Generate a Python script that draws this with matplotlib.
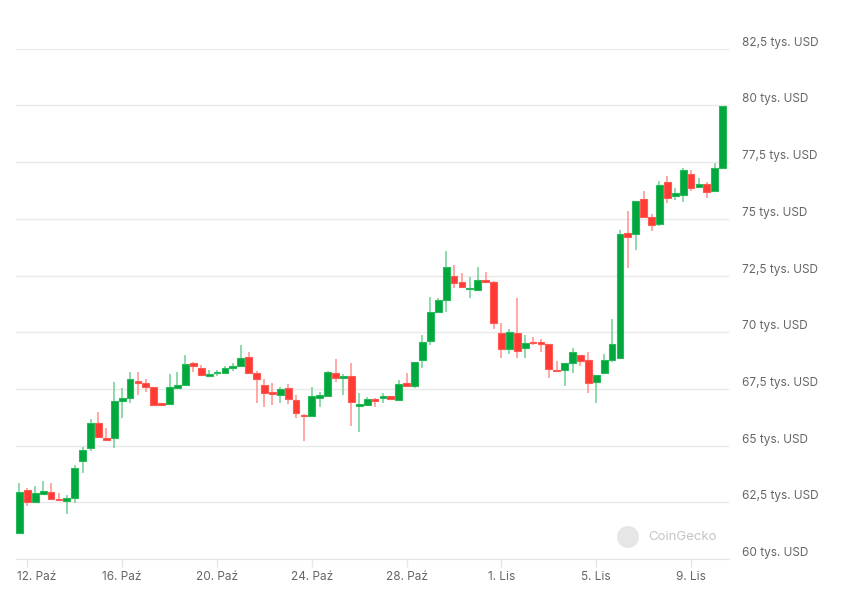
import matplotlib
matplotlib.use("Agg")
import matplotlib.pyplot as plt
from matplotlib.patches import Circle
from matplotlib.transforms import ScaledTranslation
import numpy as np

# BTC/USD, 8h candles, values in thousands of USD
opens = [61.13, 63.06, 62.52, 62.88, 62.95, 62.65, 62.55, 62.71, 64.30, 64.90,
         66.00, 65.34, 65.34, 66.98, 67.10, 67.83, 67.76, 67.59, 66.86, 66.84,
         67.54, 67.68, 68.66, 68.42, 68.08, 68.18, 68.20, 68.44, 68.52, 68.91,
         68.20, 67.67, 67.37, 67.23, 67.52, 67.01, 66.37, 66.32, 67.12, 67.20,
         68.20, 67.98, 68.08, 66.75, 66.80, 67.05, 67.10, 67.19, 67.01, 67.76,
         67.61, 68.77, 69.61, 70.89, 71.40, 72.50, 72.23, 71.91, 71.84, 72.32,
         72.20, 69.95, 69.25, 69.95, 69.29, 69.57, 69.57, 69.47, 68.34, 68.33,
         68.65, 68.99, 68.77, 67.81, 68.20, 68.77, 68.85, 74.37, 74.34, 75.88,
         75.10, 74.78, 76.64, 76.01, 76.05, 76.98, 76.39, 76.52, 76.24, 77.25]
highs = [63.37, 63.13, 63.20, 63.42, 63.33, 62.93, 62.81, 64.13, 64.95, 66.18,
         66.50, 65.76, 67.81, 67.54, 68.25, 68.25, 67.93, 67.60, 66.88, 68.17,
         68.25, 69.00, 68.70, 68.56, 68.34, 68.34, 68.50, 68.63, 69.44, 69.13,
         68.30, 67.93, 67.76, 67.59, 67.71, 67.24, 66.40, 67.57, 67.35, 68.30,
         68.84, 68.15, 68.66, 67.30, 67.15, 67.10, 67.30, 67.20, 67.90, 68.20,
         68.70, 69.88, 71.55, 71.49, 73.56, 72.95, 72.60, 72.42, 72.86, 72.64,
         72.25, 70.39, 70.13, 71.51, 69.88, 69.79, 69.69, 69.50, 68.74, 68.65,
         69.29, 69.00, 69.14, 68.12, 69.06, 70.59, 74.52, 75.36, 75.80, 76.24,
         75.20, 76.68, 76.90, 76.37, 77.25, 77.15, 76.81, 76.64, 77.47, 79.96]
lows = [61.10, 62.34, 62.50, 62.80, 62.62, 62.55, 61.98, 62.47, 63.79, 64.78,
        65.40, 65.25, 64.90, 66.22, 66.86, 67.24, 67.37, 66.79, 66.78, 66.84,
        67.54, 67.68, 68.25, 68.11, 68.08, 68.08, 68.20, 68.27, 68.52, 68.20,
        66.86, 66.69, 66.79, 66.86, 66.84, 66.22, 65.19, 66.30, 66.69, 67.20,
        67.80, 67.24, 65.88, 65.59, 66.80, 66.69, 66.86, 67.00, 67.00, 67.60,
        67.56, 68.44, 69.44, 70.89, 70.90, 71.93, 71.98, 71.49, 71.84, 72.20,
        70.13, 68.88, 69.06, 68.88, 68.88, 69.44, 69.13, 68.00, 68.25, 67.61,
        68.22, 68.49, 67.32, 66.86, 68.20, 68.70, 68.85, 72.81, 73.64, 75.10,
        74.47, 74.69, 75.69, 75.83, 75.72, 76.23, 76.35, 75.90, 76.20, 77.25]
closes = [62.95, 62.52, 62.91, 63.02, 62.66, 62.58, 62.71, 64.02, 64.82, 65.98,
          65.40, 65.25, 66.95, 67.12, 67.93, 67.76, 67.59, 66.79, 66.79, 67.59,
          67.68, 68.59, 68.52, 68.11, 68.15, 68.22, 68.42, 68.52, 68.85, 68.20,
          67.93, 67.32, 67.27, 67.49, 67.05, 66.42, 66.29, 67.20, 67.24, 68.25,
          68.00, 68.08, 66.94, 66.84, 67.05, 66.97, 67.20, 67.05, 67.71, 67.61,
          68.68, 69.57, 70.89, 71.40, 72.89, 72.15, 71.98, 71.97, 72.32, 72.23,
          70.39, 69.25, 70.02, 69.17, 69.54, 69.52, 69.50, 68.37, 68.27, 68.63,
          69.12, 68.74, 67.76, 68.11, 68.77, 69.47, 74.34, 74.18, 75.79, 75.10,
          74.74, 76.49, 75.90, 76.15, 77.15, 76.37, 76.52, 76.20, 77.22, 79.96]

tickIdx = [1, 13, 25, 37, 49, 61, 73, 85]
tickLabels = ["12. Paź", "16. Paź", "20. Paź", "24. Paź", "28. Paź", "1. Lis", "5. Lis", "9. Lis"]
yTicks = [60, 62.5, 65, 67.5, 70, 72.5, 75, 77.5, 80, 82.5]
yLabels = ["60 tys. USD", "62,5 tys. USD", "65 tys. USD", "67,5 tys. USD", "70 tys. USD",
           "72,5 tys. USD", "75 tys. USD", "77,5 tys. USD", "80 tys. USD", "82,5 tys. USD"]

plt.rcParams['font.family'] = ['Inter', 'DejaVu Sans']

W, H = 843, 602
fig = plt.figure(figsize=(W / 100, H / 100), dpi=100)
ax = fig.add_axes([16 / W, 43 / H, (729 - 16) / W, (559 - 48.7) / H])

o = np.array(opens)
h = np.array(highs)
l = np.array(lows)
c = np.array(closes)
x = np.arange(len(o))
up = c >= o

bodyCol = np.where(up, '#00a83e', '#ff3b34')
edgeCol = np.where(up, '#28b95a', '#ff5a54')
wickCol = np.where(up, '#7dd39c', '#ff9a96')

ax.vlines(x, l, h, colors=wickCol, linewidth=1.2, zorder=2)
bottoms = np.minimum(o, c)
heights = np.maximum(np.abs(c - o), 0.05)
ax.bar(x, heights, bottom=bottoms, width=0.86, color=bodyCol, edgecolor=edgeCol,
       linewidth=0.8, zorder=3)

ax.set_xlim(-0.44, 89.8)
ax.set_ylim(60, 82.5)

ax.set_yticks(yTicks)
ax.grid(axis='y', color='#e9e9e9', linewidth=1)
ax.set_axisbelow(True)
ax.tick_params(axis='y', length=0, labelleft=False)
for v, t in zip(yTicks, yLabels):
    ax.annotate(t, xy=(1, v), xycoords=('axes fraction', 'data'), xytext=(9.5, 4.3),
                textcoords='offset points', ha='left', va='center', fontsize=8.5,
                color='#666666', annotation_clip=False)

for s in ['top', 'left', 'right']:
    ax.spines[s].set_visible(False)
ax.spines['bottom'].set_color('#e6e6e6')

ax.set_xticks(tickIdx, tickLabels)
ax.tick_params(axis='x', length=6, width=1, color='#e6e6e6', labelcolor='#666666',
               labelsize=8.5, pad=3)
first = ax.get_xticklabels()[0]
first.set_transform(first.get_transform() + ScaledTranslation(0.09, 0, fig.dpi_scale_trans))

# watermark
fig.add_artist(Circle((6.28, (H - 537) / 100), 0.11, transform=fig.dpi_scale_trans,
                      facecolor='#e6e6e6', edgecolor='none'))
fig.text(648 / W, (H - 537) / H, "CoinGecko", fontsize=9.5, color='#c4c4c4',
         ha='left', va='center')

fig.savefig('out.png', dpi=100)
